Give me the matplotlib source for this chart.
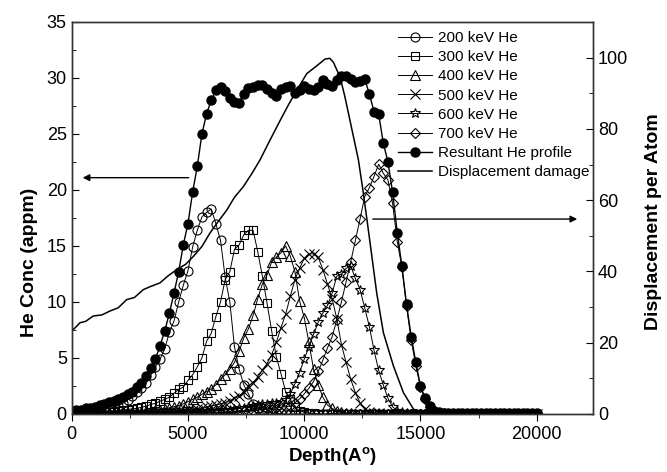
import numpy as np
import matplotlib
matplotlib.use("Agg")
import matplotlib.pyplot as plt
from matplotlib.ticker import MultipleLocator

plt.rcParams['font.family'] = ['Liberation Sans', 'DejaVu Sans']
plt.rcParams['mathtext.fontset'] = 'custom'
plt.rcParams['mathtext.bf'] = 'Liberation Sans:bold'
plt.rcParams['mathtext.rm'] = 'Liberation Sans'

# depth grid of the implantation profiles (Angstrom)
depth = np.arange(0, 20001, 200)

he200 = [0.1, 0.1, 0.1, 0.15, 0.2, 0.25, 0.3, 0.4, 0.5, 0.6,
         0.75, 0.95, 1.25, 1.6, 1.95, 2.35, 2.75, 3.5, 4.2, 4.9,
         5.8, 7.3, 8.3, 10.0, 11.5, 12.8, 14.9, 16.4, 17.6, 18.0,
         18.3, 17.0, 15.5, 12.2, 10.0, 6.0, 4.0, 2.6, 1.8, 0.9,
         0.5, 0.3, 0.15, 0.1, 0.05, 0.05, 0, 0, 0, 0,
         0, 0, 0, 0, 0, 0, 0, 0, 0, 0,
         0, 0, 0, 0, 0, 0, 0, 0, 0, 0,
         0, 0, 0, 0, 0, 0, 0, 0, 0, 0,
         0, 0, 0, 0, 0, 0, 0, 0, 0, 0,
         0, 0, 0, 0, 0, 0, 0, 0, 0, 0,
         0]
he300 = [0.05, 0.05, 0.05, 0.05, 0.1, 0.1, 0.1, 0.15, 0.15, 0.2,
         0.3, 0.35, 0.4, 0.45, 0.5, 0.6, 0.7, 0.85, 0.95, 1.15,
         1.3, 1.5, 1.85, 2.2, 2.4, 3.0, 3.5, 4.2, 5.0, 6.5,
         7.2, 8.7, 10.0, 12.0, 12.7, 14.7, 15.1, 16.0, 16.4, 16.4,
         14.5, 12.3, 9.9, 7.4, 5.1, 3.6, 2.0, 1.3, 0.6, 0.3,
         0.15, 0.1, 0.05, 0, 0, 0, 0, 0, 0, 0,
         0, 0, 0, 0, 0, 0, 0, 0, 0, 0,
         0, 0, 0, 0, 0, 0, 0, 0, 0, 0,
         0, 0, 0, 0, 0, 0, 0, 0, 0, 0,
         0, 0, 0, 0, 0, 0, 0, 0, 0, 0,
         0]
he400 = [0.02, 0.03, 0.03, 0.04, 0.05, 0.05, 0.06, 0.07, 0.08, 0.09,
         0.1, 0.11, 0.12, 0.14, 0.16, 0.2, 0.23, 0.27, 0.32, 0.38,
         0.45, 0.55, 0.65, 0.75, 0.9, 1.1, 1.3, 1.5, 1.75, 2.0,
         2.25, 2.6, 3.1, 3.5, 4.0, 4.6, 5.6, 6.8, 7.6, 8.8,
         10.3, 11.6, 12.4, 13.6, 14.0, 14.4, 15.0, 14.1, 12.7, 10.1,
         8.6, 6.4, 4.0, 2.6, 1.5, 0.8, 0.5, 0.3, 0.15, 0.1,
         0.05, 0, 0, 0, 0, 0, 0, 0, 0, 0,
         0, 0, 0, 0, 0, 0, 0, 0, 0, 0,
         0, 0, 0, 0, 0, 0, 0, 0, 0, 0,
         0, 0, 0, 0, 0, 0, 0, 0, 0, 0,
         0]
he500 = [0.02, 0.02, 0.02, 0.02, 0.02, 0.03, 0.03, 0.03, 0.03, 0.03,
         0.04, 0.05, 0.05, 0.06, 0.07, 0.08, 0.09, 0.1, 0.12, 0.14,
         0.16, 0.18, 0.21, 0.25, 0.3, 0.35, 0.4, 0.45, 0.5, 0.6,
         0.7, 0.8, 0.9, 1.0, 1.2, 1.4, 1.6, 2.0, 2.5, 2.8,
         3.3, 3.9, 4.5, 5.3, 6.4, 7.7, 8.9, 10.5, 12.0, 13.0,
         13.9, 14.3, 14.3, 14.0, 12.9, 11.6, 10.3, 8.5, 6.2, 4.6,
         3.1, 1.9, 1.0, 0.45, 0.2, 0.1, 0.05, 0, 0, 0,
         0, 0, 0, 0, 0, 0, 0, 0, 0, 0,
         0, 0, 0, 0, 0, 0, 0, 0, 0, 0,
         0, 0, 0, 0, 0, 0, 0, 0, 0, 0,
         0]
he600 = [0.01, 0.01, 0.01, 0.01, 0.01, 0.02, 0.02, 0.02, 0.02, 0.02,
         0.03, 0.03, 0.04, 0.04, 0.05, 0.05, 0.06, 0.07, 0.08, 0.09,
         0.1, 0.11, 0.12, 0.13, 0.15, 0.17, 0.19, 0.21, 0.23, 0.25,
         0.28, 0.3, 0.33, 0.36, 0.4, 0.45, 0.5, 0.55, 0.62, 0.7,
         0.78, 0.85, 0.9, 0.95, 1.0, 1.1, 1.25, 1.8, 2.7, 3.7,
         4.9, 6.0, 7.1, 8.2, 9.0, 9.7, 10.8, 12.3, 12.5, 13.0,
         13.2, 12.1, 11.1, 9.5, 7.8, 5.7, 3.9, 2.6, 1.4, 0.65,
         0.3, 0.15, 0.05, 0, 0, 0, 0, 0, 0, 0,
         0, 0, 0, 0, 0, 0, 0, 0, 0, 0,
         0, 0, 0, 0, 0, 0, 0, 0, 0, 0,
         0]
he700 = [0.01, 0.01, 0.01, 0.01, 0.01, 0.01, 0.01, 0.02, 0.02, 0.02,
         0.02, 0.03, 0.03, 0.03, 0.04, 0.04, 0.05, 0.05, 0.06, 0.06,
         0.07, 0.07, 0.08, 0.08, 0.09, 0.09, 0.1, 0.1, 0.1, 0.1,
         0.1, 0.11, 0.12, 0.14, 0.16, 0.18, 0.2, 0.23, 0.26, 0.3,
         0.34, 0.38, 0.42, 0.48, 0.55, 0.6, 0.65, 0.7, 1.0, 1.35,
         1.8, 2.3, 2.9, 3.8, 4.8, 5.9, 6.9, 8.4, 10.0, 11.8,
         13.6, 15.5, 17.4, 19.4, 20.2, 21.2, 22.3, 21.5, 20.9, 18.8,
         15.4, 13.1, 9.6, 6.6, 4.3, 2.4, 1.3, 0.6, 0.25, 0.1,
         0.05, 0, 0, 0, 0, 0, 0, 0, 0, 0,
         0, 0, 0, 0, 0, 0, 0, 0, 0, 0,
         0]
resultant = [0.3, 0.35, 0.4, 0.5, 0.55, 0.65, 0.8, 0.9, 1.05, 1.2,
             1.35, 1.55, 1.8, 2.0, 2.4, 2.8, 3.4, 4.1, 4.9, 6.1,
             7.4, 9.0, 10.8, 12.7, 15.1, 17.0, 19.8, 22.1, 25.0, 26.8,
             28.0, 28.9, 29.2, 28.8, 28.2, 27.9, 27.8, 28.6, 29.1, 29.2,
             29.4, 29.4, 29.0, 28.7, 28.4, 29.0, 29.2, 29.3, 28.7, 28.9,
             29.3, 29.0, 28.9, 29.2, 29.8, 29.5, 29.3, 29.8, 30.2, 30.2,
             29.9, 29.6, 29.7, 29.9, 28.6, 27.0, 26.8, 24.2, 22.5, 19.8,
             16.2, 13.2, 9.8, 6.9, 4.6, 2.5, 1.4, 0.7, 0.3, 0.15,
             0.1, 0.1, 0.1, 0.1, 0.1, 0.1, 0.1, 0.1, 0.1, 0.1,
             0.1, 0.1, 0.1, 0.1, 0.1, 0.1, 0.1, 0.1, 0.1, 0.1,
             0.1]

# displacement damage (dpa), right axis
dpa_depth = [0, 150, 357, 600, 930, 1300, 1647, 2000, 2365, 2700, 3080, 3400,
             3798, 4150, 4515, 4900, 5230, 5600, 5948, 6300, 6667, 7000, 7381,
             7750, 8099, 8500, 8959, 9300, 9677, 10108, 10538, 10895, 11100,
             11252, 11540, 11750, 11970, 12330, 12545, 12830, 13118, 13405,
             13835, 14265, 14695, 15000, 15300, 20000]
dpa = [23.3, 24.2, 25.6, 26.0, 27.5, 27.8, 28.9, 29.8, 32.1, 32.7, 34.9, 35.8,
       36.8, 38.8, 40.5, 42.0, 44.2, 47.0, 50.8, 54.0, 57.2, 60.8, 63.8,
       67.5, 71.3, 76.5, 82.3, 86.5, 90.8, 95.5, 97.7, 99.6, 99.8,
       98.7, 94.6, 89.0, 82.3, 71.3, 61.9, 48.1, 33.9, 22.8,
       13.5, 6.0, 1.4, 0.2, 0, 0]

fig = plt.figure(figsize=(6.67, 4.72), dpi=100)
ax = fig.add_axes([0.1075, 0.1229, 0.7816, 0.8305])
ax2 = ax.twinx()

thin = dict(color='k', lw=0.7, mew=0.8, mfc='none', mec='k')
h1, = ax.plot(depth, he200, marker='o', ms=6.5, **thin)
h2, = ax.plot(depth, he300, marker='s', ms=5.5, **thin)
h3, = ax.plot(depth, he400, marker='^', ms=7, **thin)
h4, = ax.plot(depth, he500, marker='x', ms=6.5, **thin)
h5, = ax.plot(depth, he600, marker='*', ms=7, **thin)
h6, = ax.plot(depth, he700, marker='D', ms=5.5, **thin)
h7, = ax.plot(depth, resultant, marker='o', ms=6.5, color='k', lw=1.0,
              mfc='k', mec='k')
h8, = ax2.plot(dpa_depth, dpa, color='k', lw=1.1)

ax.set_xlim(0, 22420)
ax.set_ylim(0, 35)
ax2.set_ylim(0, 110)

ax.xaxis.set_major_locator(MultipleLocator(5000))
ax.xaxis.set_minor_locator(MultipleLocator(2500))
ax.yaxis.set_major_locator(MultipleLocator(5))
ax.yaxis.set_minor_locator(MultipleLocator(2.5))
ax2.yaxis.set_major_locator(MultipleLocator(20))
ax2.yaxis.set_minor_locator(MultipleLocator(10))

ax.tick_params(axis='x', which='both', direction='out', top=False, labelsize=13)
ax.tick_params(axis='x', which='major', length=5)
ax.tick_params(axis='x', which='minor', length=3)
ax.tick_params(axis='y', which='both', direction='in', labelsize=13)
ax.tick_params(axis='y', which='major', length=5)
ax.tick_params(axis='y', which='minor', length=3)
ax2.tick_params(axis='y', which='both', direction='in', labelsize=13)
ax2.tick_params(axis='y', which='major', length=5)
ax2.tick_params(axis='y', which='minor', length=3)

for a in (ax, ax2):
    for s in a.spines.values():
        s.set_color('#333333')
        s.set_linewidth(1.0)

ax.set_xlabel(r'Depth(A$^{\mathbf{o}}$)', fontsize=13.5, fontweight='bold', labelpad=2)
ax.set_ylabel('He Conc (appm)', fontsize=14, fontweight='bold')
ax.yaxis.set_label_coords(-0.065, 0.386)
ax2.set_ylabel('Displacement per Atom', fontsize=14, fontweight='bold',
               rotation=90)
ax2.yaxis.set_label_coords(1.1, 0.49)

# arrows pointing to the respective axes
ax.annotate('', xy=(350, 21.1), xytext=(5150, 21.1),
            arrowprops=dict(arrowstyle='-|>', color='k', lw=1, mutation_scale=10))
ax2.annotate('', xy=(21860, 54.7), xytext=(12830, 54.7),
             arrowprops=dict(arrowstyle='-|>', color='k', lw=1, mutation_scale=10))

labels = ['200 keV He', '300 keV He', '400 keV He', '500 keV He',
          '600 keV He', '700 keV He', 'Resultant He profile',
          'Displacement damage']
ax2.legend([h1, h2, h3, h4, h5, h6, h7, h8], labels, loc='upper left',
           bbox_to_anchor=(0.626, 0.977), frameon=False, fontsize=11,
           handlelength=2.2, handletextpad=0.4, labelspacing=0.34,
           borderpad=0, borderaxespad=0)

fig.savefig('out.png', dpi=100)
